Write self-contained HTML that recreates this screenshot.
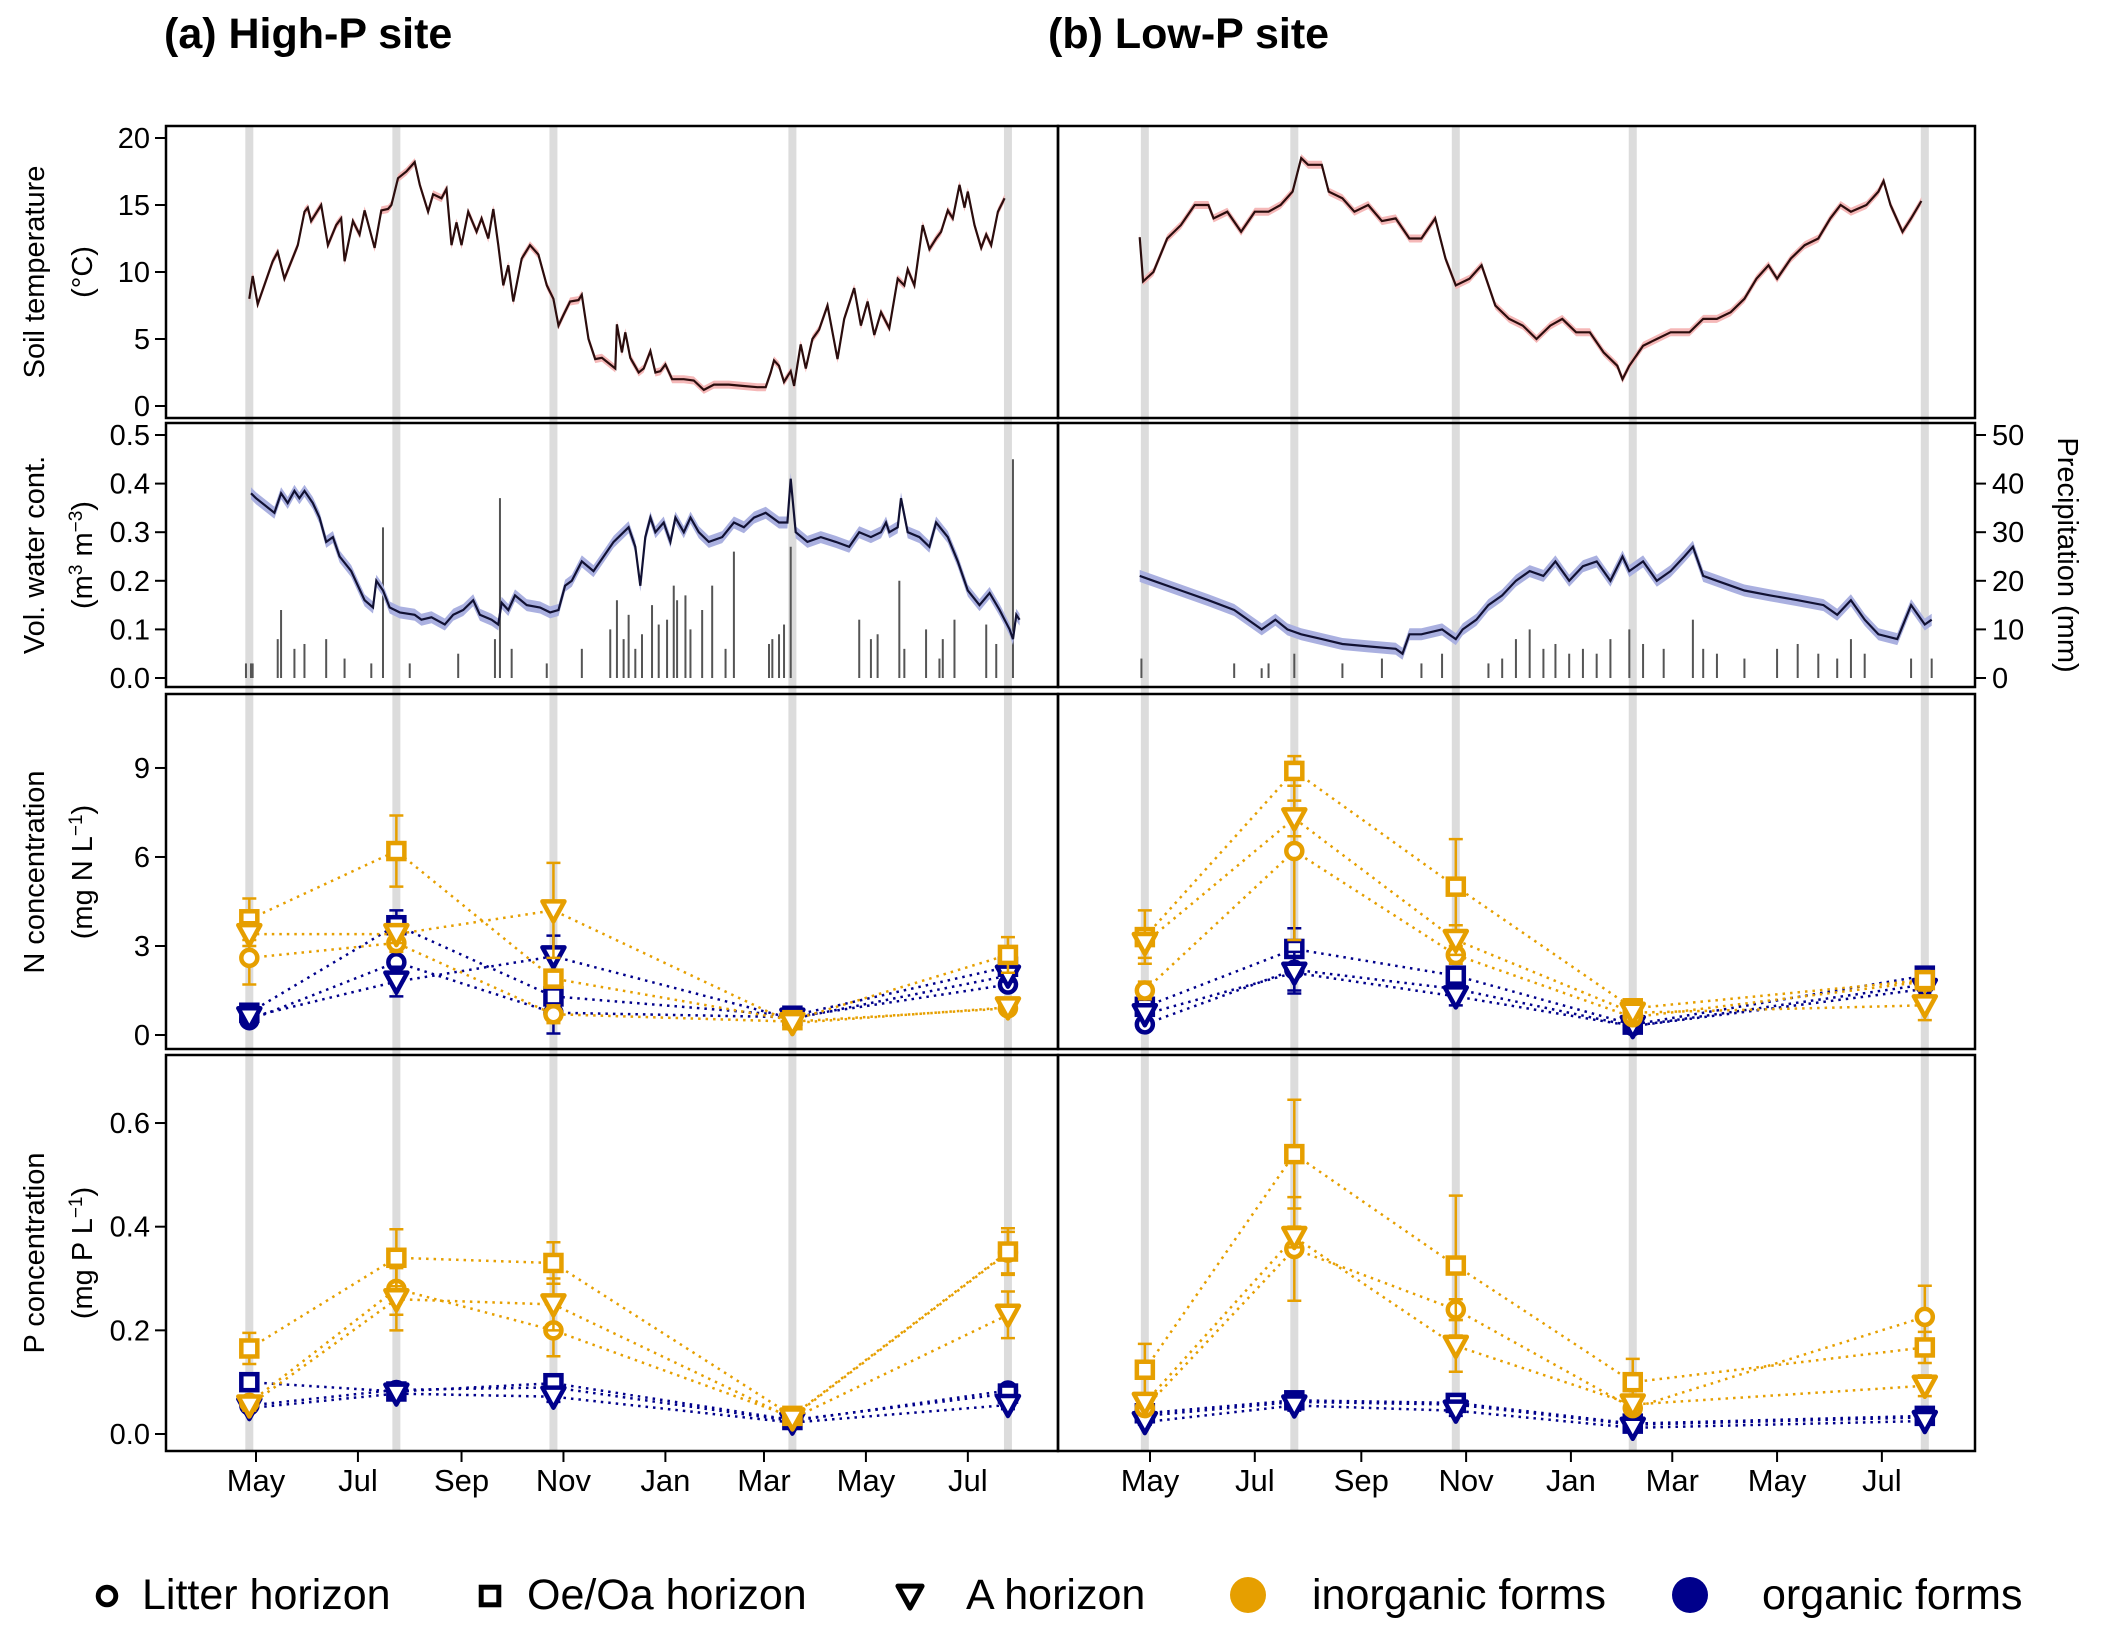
<!DOCTYPE html>
<html><head><meta charset="utf-8"><style>
body{margin:0;background:#fff;}
svg text{font-family:"Liberation Sans Narrow","Liberation Sans",sans-serif;}
.t{font-family:"Liberation Sans",sans-serif;}
</style></head><body>
<svg id="c" width="2102" height="1642" viewBox="0 0 2102 1642" xmlns="http://www.w3.org/2000/svg">
<text class="t" x="164" y="48" font-size="43" font-weight="bold">(a) High-P site</text>
<text class="t" x="1048" y="48" font-size="43" font-weight="bold">(b) Low-P site</text>
<g id="g"></g>
</svg>
<script>
// ---- data (days since 1 May of first year) ----
const sampleDaysHigh = [-4, 84, 178, 321, 450];
const sampleDaysLow = [-3, 84, 178, 281, 451];
const monthLabels = ["May","Jul","Sep","Nov","Jan","Mar","May","Jul"];
const monthDays = [0, 61, 123, 184, 245, 304, 365, 426];
const tempTicks = [0,5,10,15,20];
const waterTicks = [0,0.1,0.2,0.3,0.4,0.5];
const precipTicks = [0,10,20,30,40,50];
const nTicks = [0,3,6,9];
const pTicks = [0,0.2,0.4,0.6];

const tempHighDays = [-4,-2,1,10,13,17,25,29,31,33,39,43,48,51,53,58,62,65,71,75,79,81,85,90,95,98,103,106,111,114,117,120,123,127,132,135,139,142,145,148,151,154,159,164,169,174,178,181,184,188,193,195,199,203,207,211,215,216,219,221,224,229,232,236,239,242,245,249,256,262,268,274,283,291,300,305,308,310,313,316,320,322,326,329,333,337,342,348,352,358,362,366,370,374,379,384,388,390,394,399,403,407,410,414,417,421,424,426,430,434,437,440,444,448];
const tempHighVals = [8,9.7,7.6,10.8,11.5,9.5,12,14.5,14.8,13.8,15,12,13.5,14,10.8,13.8,12.8,14.6,11.8,14.6,14.7,15,17,17.5,18.2,16.5,14.5,15.8,15.5,16.2,12,13.7,12,14.5,13,14,12.5,14.7,12,9,10.5,7.8,11,12,11.3,9,8,6,6.8,7.8,7.9,8.3,5,3.5,3.6,3.2,2.8,6.1,4,5.5,3.6,2.5,2.8,4.1,2.5,2.6,3.1,2,2,1.9,1.2,1.6,1.6,1.5,1.4,1.4,2.5,3.4,3,1.8,2.6,1.5,4.6,2.8,5,5.7,7.5,3.5,6.5,8.8,6,7.8,5.3,7,5.8,9.5,9,10.2,9,13.5,11.7,12.5,13,14.6,14,16.5,14.8,16,13.5,11.8,12.8,12,14.5,15.5];
const tempLowDays = [-6,-4,2,10,18,26,34,37,45,53,61,69,76,83,88,92,100,104,112,119,127,135,143,151,158,166,172,178,186,193,201,209,217,225,233,240,248,256,264,272,275,279,287,295,303,314,322,330,338,346,353,360,365,373,381,389,396,402,408,417,424,427,431,438,443,449];
const tempLowVals = [12.6,9.3,10,12.5,13.5,15,15,14,14.5,13,14.5,14.5,15,16,18.5,18,18,16,15.5,14.5,15,13.8,14,12.5,12.5,14,11,9,9.5,10.5,7.5,6.5,6,5,6,6.5,5.5,5.5,4,3,2,3,4.5,5,5.5,5.5,6.5,6.5,7,8,9.5,10.5,9.5,11,12,12.5,14,15,14.5,15,16,16.8,15,13,14,15.3];

const waterHighDays = [-3,0,11,15,19,23,26,29,34,38,42,46,50,57,61,65,70,72,76,80,86,95,99,105,113,118,124,130,134,141,145,147,151,155,162,170,176,181,185,189,195,202,208,214,223,227,230,233,236,239,244,248,251,256,260,265,271,279,286,292,298,305,313,318,320,323,330,338,347,355,361,368,374,377,379,384,386,390,397,403,407,414,420,426,433,439,445,451,453,455,457];
const waterHighVals = [0.38,0.37,0.34,0.38,0.36,0.385,0.37,0.385,0.36,0.33,0.28,0.29,0.25,0.22,0.19,0.16,0.145,0.2,0.18,0.145,0.135,0.13,0.12,0.125,0.11,0.13,0.14,0.16,0.13,0.12,0.11,0.155,0.14,0.17,0.15,0.145,0.135,0.14,0.19,0.2,0.24,0.22,0.25,0.28,0.31,0.27,0.19,0.29,0.33,0.3,0.32,0.28,0.33,0.3,0.33,0.3,0.28,0.29,0.32,0.31,0.33,0.34,0.32,0.32,0.41,0.3,0.28,0.29,0.28,0.27,0.3,0.29,0.3,0.32,0.3,0.31,0.37,0.3,0.29,0.27,0.32,0.29,0.24,0.18,0.15,0.175,0.14,0.1,0.08,0.13,0.12];
const waterLowDays = [-6,2,18,34,49,65,73,80,88,100,112,127,143,147,151,158,170,174,178,182,190,197,205,213,221,229,236,244,252,260,268,275,279,287,295,303,311,316,322,330,338,346,361,377,392,400,408,416,424,435,443,451,455];
const waterLowVals = [0.21,0.2,0.18,0.16,0.14,0.1,0.12,0.1,0.09,0.08,0.07,0.065,0.06,0.05,0.09,0.09,0.1,0.09,0.08,0.1,0.12,0.15,0.17,0.2,0.22,0.21,0.24,0.2,0.23,0.24,0.2,0.25,0.22,0.24,0.2,0.22,0.25,0.27,0.21,0.2,0.19,0.18,0.17,0.16,0.15,0.13,0.16,0.12,0.09,0.08,0.15,0.11,0.12];

const precipHighDays = [-6,-3,-2,13,15,23,29,42,53,69,76,92,121,143,146,153,174,195,212,216,220,223,227,231,237,241,246,250,252,257,260,267,273,281,286,307,309,313,316,320,361,368,372,385,388,401,409,411,418,437,443,453];
const precipHighMm = [3,3,3,8,14,6,7,8,4,3,31,3,5,8,37,6,3,6,10,16,8,13,6,9,15,11,12,19,16,17,10,14,19,6,26,7,8,9,11,27,12,8,9,20,6,10,4,8,12,11,7,45];
const precipLowDays = [-5,49,65,69,84,112,135,158,170,197,205,213,221,229,236,244,252,260,268,279,287,299,316,322,330,346,365,377,389,400,408,416,443,455];
const precipLowMm = [4,3,2,3,5,3,4,3,5,3,4,8,10,6,7,5,6,5,8,10,7,6,12,6,5,4,6,7,5,4,8,5,4,4];

// N high-P (mg N/L)
const nHighInorgLitter = [2.6,3.1,0.7,0.45,0.9];
const nHighInorgOeOa = [3.9,6.2,1.9,0.5,2.7];
const nHighInorgA = [3.4,3.4,4.2,0.4,0.93];
const nHighOrgLitter = [0.5,2.45,0.75,0.6,1.7];
const nHighOrgOeOa = [0.75,3.7,1.3,0.65,2.3];
const nHighOrgA = [0.6,1.8,2.65,0.55,2.0];
const nHighInorgLitterErr = [0.9,0.3,0.3,0.1,0.1];
const nHighInorgOeOaErr = [0.7,1.2,0.3,0.1,0.6];
const nHighInorgAErr = [0.4,0.3,1.6,0.1,0.1];
const nHighOrgErr = [0.15,0.5,0.7,0.1,0.2];
// N low-P
const nLowInorgLitter = [1.5,6.2,2.7,0.6,1.8];
const nLowInorgOeOa = [3.3,8.9,5.0,0.9,1.85];
const nLowInorgA = [3.1,7.3,3.2,0.75,1.0];
const nLowOrgLitter = [0.36,2.2,1.55,0.3,1.7];
const nLowOrgOeOa = [0.95,2.9,2.0,0.35,2.0];
const nLowOrgA = [0.7,2.1,1.3,0.3,1.55];
const nLowInorgLitterErr = [0.3,3.0,0.3,0.1,0.2];
const nLowInorgOeOaErr = [0.9,0.5,1.6,0.3,0.3];
const nLowInorgAErr = [0.5,0.6,0.5,0.3,0.5];
const nLowOrgErr = [0.1,0.7,0.3,0.1,0.2];
// P high-P (mg P/L)
const pHighInorgLitter = [0.06,0.28,0.2,0.033,0.35];
const pHighInorgOeOa = [0.165,0.34,0.33,0.035,0.352];
const pHighInorgA = [0.055,0.26,0.25,0.03,0.23];
const pHighOrgLitter = [0.055,0.085,0.09,0.025,0.084];
const pHighOrgOeOa = [0.1,0.082,0.098,0.027,0.078];
const pHighOrgA = [0.05,0.078,0.072,0.022,0.056];
const pHighInorgLitterErr = [0.01,0.05,0.05,0.005,0.04];
const pHighInorgOeOaErr = [0.03,0.055,0.04,0.005,0.045];
const pHighInorgAErr = [0.01,0.06,0.05,0.005,0.045];
const pHighOrgErr = [0.005,0.01,0.01,0.003,0.008];
// P low-P
const pLowInorgLitter = [0.05,0.357,0.24,0.05,0.226];
const pLowInorgOeOa = [0.124,0.54,0.325,0.1,0.167];
const pLowInorgA = [0.06,0.38,0.17,0.057,0.093];
const pLowOrgLitter = [0.035,0.062,0.057,0.018,0.032];
const pLowOrgOeOa = [0.04,0.065,0.06,0.02,0.035];
const pLowOrgA = [0.023,0.055,0.045,0.012,0.025];
const pLowInorgLitterErr = [0.01,0.1,0.02,0.01,0.06];
const pLowInorgOeOaErr = [0.05,0.105,0.135,0.045,0.03];
const pLowInorgAErr = [0.01,0.02,0.05,0.01,0.02];
const pLowOrgErr = [0.005,0.01,0.01,0.005,0.005];

// ---- layout ----
const NS="http://www.w3.org/2000/svg";
const G=document.getElementById('g');
const ORANGE="#E69F00", NAVY="#00008B";
const panels={high:{x0:166,x1:1058,xs:d=>256+1.671*d,days:sampleDaysHigh},low:{x0:1058,x1:1975,xs:d=>1150+1.718*d,days:sampleDaysLow}};
const rows={temp:{t:126,b:418,ys:v=>406-v*13.4},water:{t:423,b:687,ys:v=>678-v*486},n:{t:694,b:1049,ys:v=>1035-v*29.67},p:{t:1055,b:1451,ys:v=>1434-v*518.3}};
function el(tag,attrs,parent){const e=document.createElementNS(NS,tag);for(const k in attrs)e.setAttribute(k,attrs[k]);(parent||G).appendChild(e);return e;}
function txt(s,attrs,parent){const e=el('text',attrs,parent);e.textContent=s;return e;}

for(const key of ['high','low']){const P=panels[key];
  for(const d of P.days){const x=P.xs(d);
    const l=el('line',{x1:x,x2:x,y1:rows.temp.t,y2:rows.p.b,stroke:'#dcdcdc','stroke-width':8});
    
    
  }}

function pathOf(xs,ys,days,vals){return days.map((d,i)=>(i?'L':'M')+xs(d).toFixed(1)+','+ys(vals[i]).toFixed(1)).join('');}
function bandOf(xs,ys,days,vals,w){let up=days.map((d,i)=>xs(d).toFixed(1)+','+(ys(vals[i])-w).toFixed(1));let dn=days.map((d,i)=>xs(d).toFixed(1)+','+(ys(vals[i])+w).toFixed(1)).reverse();return 'M'+up.join('L')+'L'+dn.join('L')+'Z';}

[[panels.high,tempHighDays,tempHighVals],[panels.low,tempLowDays,tempLowVals]].forEach(([P,d,v])=>{
  const b=el('path',{d:bandOf(P.xs,rows.temp.ys,d,v,4),fill:'#f5b8b8',stroke:'none'});
  
  
  const l=el('path',{d:pathOf(P.xs,rows.temp.ys,d,v),fill:'none',stroke:'#2b0d0d','stroke-width':2.2});
  
  
});
[[panels.high,precipHighDays,precipHighMm],[panels.low,precipLowDays,precipLowMm]].forEach(([P,d,v])=>{
  d.forEach((dd,i)=>{const x=P.xs(dd);
    const r=el('line',{x1:x,x2:x,y1:rows.water.ys(0),y2:rows.water.ys(v[i]/100),stroke:'#555','stroke-width':2});
    
    
  });
});
[[panels.high,waterHighDays,waterHighVals],[panels.low,waterLowDays,waterLowVals]].forEach(([P,d,v])=>{
  const b=el('path',{d:bandOf(P.xs,rows.water.ys,d,v,6),fill:'#aab0e0',stroke:'none'});
  
  
  const l=el('path',{d:pathOf(P.xs,rows.water.ys,d,v),fill:'none',stroke:'#111133','stroke-width':2.2});
  
  
});

function marker(shape,x,y,col,parent,s){
  s=s||1;
  if(shape==='circle') return el('circle',{cx:x,cy:y,r:8*s,fill:'#fff',stroke:col,'stroke-width':4.5*s},parent);
  if(shape==='square') return el('rect',{x:x-8*s,y:y-8*s,width:16*s,height:16*s,fill:'#fff',stroke:col,'stroke-width':4.5*s},parent);
  return el('polygon',{points:`${x-11*s},${y-9*s} ${x+11*s},${y-9*s} ${x},${y+11*s}`,fill:'#fff',stroke:col,'stroke-width':4.5*s,'stroke-linejoin':'round'},parent);
}
function series(P,row,vals,errs,shape,col,name){
  const xs=P.xs, ys=row.ys;
  const l=el('path',{d:pathOf(xs,ys,P.days,vals),fill:'none',stroke:col,'stroke-width':2.5,'stroke-dasharray':'2.5,5'});
  
  
  P.days.forEach((d,i)=>{const x=xs(d);
    if(errs[i]>0){
      const e=el('path',{d:`M${x},${ys(vals[i]-errs[i])}L${x},${ys(vals[i]+errs[i])}M${x-7},${ys(vals[i]-errs[i])}L${x+7},${ys(vals[i]-errs[i])}M${x-7},${ys(vals[i]+errs[i])}L${x+7},${ys(vals[i]+errs[i])}`,stroke:col,'stroke-width':2.5,fill:'none'});
      
      
    }
    const m=marker(shape,x,ys(vals[i]),col);
    
    
  });
}
const H=panels.high,L=panels.low;
series(H,rows.n,nHighOrgLitter,nHighOrgErr,'circle',NAVY,'n-high-organic-litter');
series(H,rows.n,nHighOrgOeOa,nHighOrgErr,'square',NAVY,'n-high-organic-oeoa');
series(H,rows.n,nHighOrgA,nHighOrgErr,'tri',NAVY,'n-high-organic-a');
series(H,rows.n,nHighInorgLitter,nHighInorgLitterErr,'circle',ORANGE,'n-high-inorganic-litter');
series(H,rows.n,nHighInorgOeOa,nHighInorgOeOaErr,'square',ORANGE,'n-high-inorganic-oeoa');
series(H,rows.n,nHighInorgA,nHighInorgAErr,'tri',ORANGE,'n-high-inorganic-a');
series(L,rows.n,nLowOrgLitter,nLowOrgErr,'circle',NAVY,'n-low-organic-litter');
series(L,rows.n,nLowOrgOeOa,nLowOrgErr,'square',NAVY,'n-low-organic-oeoa');
series(L,rows.n,nLowOrgA,nLowOrgErr,'tri',NAVY,'n-low-organic-a');
series(L,rows.n,nLowInorgLitter,nLowInorgLitterErr,'circle',ORANGE,'n-low-inorganic-litter');
series(L,rows.n,nLowInorgOeOa,nLowInorgOeOaErr,'square',ORANGE,'n-low-inorganic-oeoa');
series(L,rows.n,nLowInorgA,nLowInorgAErr,'tri',ORANGE,'n-low-inorganic-a');
series(H,rows.p,pHighOrgLitter,pHighOrgErr,'circle',NAVY,'p-high-organic-litter');
series(H,rows.p,pHighOrgOeOa,pHighOrgErr,'square',NAVY,'p-high-organic-oeoa');
series(H,rows.p,pHighOrgA,pHighOrgErr,'tri',NAVY,'p-high-organic-a');
series(H,rows.p,pHighInorgLitter,pHighInorgLitterErr,'circle',ORANGE,'p-high-inorganic-litter');
series(H,rows.p,pHighInorgOeOa,pHighInorgOeOaErr,'square',ORANGE,'p-high-inorganic-oeoa');
series(H,rows.p,pHighInorgA,pHighInorgAErr,'tri',ORANGE,'p-high-inorganic-a');
series(L,rows.p,pLowOrgLitter,pLowOrgErr,'circle',NAVY,'p-low-organic-litter');
series(L,rows.p,pLowOrgOeOa,pLowOrgErr,'square',NAVY,'p-low-organic-oeoa');
series(L,rows.p,pLowOrgA,pLowOrgErr,'tri',NAVY,'p-low-organic-a');
series(L,rows.p,pLowInorgLitter,pLowInorgLitterErr,'circle',ORANGE,'p-low-inorganic-litter');
series(L,rows.p,pLowInorgOeOa,pLowInorgOeOaErr,'square',ORANGE,'p-low-inorganic-oeoa');
series(L,rows.p,pLowInorgA,pLowInorgAErr,'tri',ORANGE,'p-low-inorganic-a');

for(const rk in rows){const R=rows[rk];
  for(const pk of ['high','low']){const P=panels[pk];
    const f=el('rect',{x:P.x0,y:R.t,width:P.x1-P.x0,height:R.b-R.t,fill:'none',stroke:'#000','stroke-width':2.5});
    
    
  }}
function yaxis(row,ticks,fmt,name){
  ticks.forEach(t=>{const y=row.ys(t);
    el('line',{x1:155,x2:166,y1:y,y2:y,stroke:'#000','stroke-width':2});
    const s=txt(fmt(t),{x:150,y:y+10,'font-size':29,'text-anchor':'end'});
    
    
  });
}
yaxis(rows.temp,tempTicks,t=>String(t),'temp-y');
yaxis(rows.water,waterTicks,t=>t.toFixed(1),'water-y');
yaxis(rows.n,nTicks,t=>String(t),'n-y');
yaxis(rows.p,pTicks,t=>t.toFixed(1),'p-y');
precipTicks.forEach(t=>{const y=rows.water.ys(t/100);
  el('line',{x1:1975,x2:1986,y1:y,y2:y,stroke:'#000','stroke-width':2});
  const s=txt(String(t),{x:1992,y:y+10,'font-size':29});
  
  
});
for(const pk of ['high','low']){const P=panels[pk];
  monthDays.forEach((d,i)=>{const x=P.xs(d);
    el('line',{x1:x,x2:x,y1:1451,y2:1462,stroke:'#000','stroke-width':2});
    const s=txt(monthLabels[i],{x:x,y:1491,'font-size':31,'text-anchor':'middle'});
    
    
  });}
function ytitle(lines,cx,cy,name,rot){
  const t=el('text',{transform:`translate(${cx},${cy}) rotate(${rot||-90})`,'font-size':29,'text-anchor':'middle',class:'t'});
  
  
  lines.forEach((ln,i)=>{const ts=el('tspan',{x:0,dy:i?48:0},t);ts.innerHTML=ln;});
}
ytitle(['Soil temperature','(°C)'],44,272,'temp-y-title');
ytitle(['Vol. water cont.','(m<tspan baseline-shift="super" font-size="19">3</tspan> m<tspan baseline-shift="super" font-size="19">−3</tspan>)'],44,555,'water-y-title');
ytitle(['N concentration','(mg N L<tspan baseline-shift="super" font-size="19">−1</tspan>)'],44,872,'n-y-title');
ytitle(['P concentration','(mg P L<tspan baseline-shift="super" font-size="19">−1</tspan>)'],44,1253,'p-y-title');
ytitle(['Precipitation (mm)'],2058,555,'precip-y-title',90);

const lg=el('g',{});


marker('circle',107,1596,'#000',lg,1.1);
txt('Litter horizon',{x:142,y:1609,'font-size':43,class:'t'},lg);
marker('square',490,1596,'#000',lg,1.1);
txt('Oe/Oa horizon',{x:527,y:1609,'font-size':43,class:'t'},lg);
marker('tri',910,1596,'#000',lg,1.1);
txt('A horizon',{x:966,y:1609,'font-size':43,class:'t'},lg);
el('circle',{cx:1248,cy:1595,r:18,fill:ORANGE},lg);
txt('inorganic forms',{x:1312,y:1609,'font-size':43,class:'t'},lg);
el('circle',{cx:1690,cy:1595,r:18,fill:NAVY},lg);
txt('organic forms',{x:1762,y:1609,'font-size':43,class:'t'},lg);
</script>
</body></html>
